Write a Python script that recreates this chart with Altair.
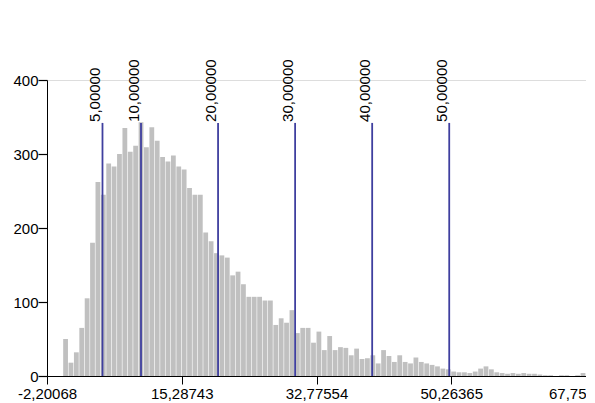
import altair as alt
import pandas as pd

# Histogram definition
x_min = -2.20068
x_max = 67.75
n_bins = 100
counts = [0, 0, 0, 50, 18, 32, 65, 105, 180, 262,
          245, 287, 283, 300, 335, 303, 311, 343, 309, 336,
          318, 296, 290, 298, 283, 279, 254, 245, 245, 194,
          182, 166, 163, 160, 136, 141, 124, 107, 107, 107,
          102, 102, 69, 78, 72, 89, 58, 65, 65, 45,
          60, 35, 54, 35, 39, 38, 28, 37, 23, 24,
          28, 17, 35, 27, 19, 28, 19, 17, 25, 19,
          17, 15, 13, 10, 9, 6, 5, 5, 4, 6,
          10, 13, 9, 5, 4, 3, 4, 3, 4, 3,
          3, 2, 1, 1, 0, 1, 1, 0, 1, 4]

# Axis ticks
x_ticks = [-2.20068, 15.28743, 32.77554, 50.26365, 67.75]
x_tick_labels = ["-2,20068", "15,28743", "32,77554", "50,26365", "67,75"]
y_ticks = [0, 100, 200, 300, 400]

# Marker lines
marker_values = [5, 10, 20, 30, 40, 50]
marker_labels = ["5,00000", "10,00000", "20,00000", "30,00000", "40,00000", "50,00000"]
marker_top = 342

bw = (x_max - x_min) / n_bins
hist = pd.DataFrame({
    "start": [x_min + i * bw for i in range(n_bins)],
    "end": [x_min + (i + 1) * bw for i in range(n_bins)],
    "count": counts,
    "base": [0] * n_bins,
})
markers = pd.DataFrame({
    "v": marker_values,
    "label": marker_labels,
    "bottom": [0] * len(marker_values),
    "top": [marker_top] * len(marker_values),
})

label_expr = " : ".join(
    f"abs(datum.value - ({v})) < 0.001 ? '{l}'" for v, l in zip(x_ticks, x_tick_labels)
) + " : ''"

xscale = alt.Scale(domain=[x_min, x_max], nice=False, zero=False, padding=0)
yscale = alt.Scale(domain=[0, 400], nice=False, padding=0)

FONT = "Liberation Sans"

bars = alt.Chart(hist).mark_bar(color="#c0c0c0", x2Offset=-0.6).encode(
    x=alt.X("start:Q", scale=xscale,
            axis=alt.Axis(values=x_ticks, labelExpr=label_expr, title=None, grid=False,
                          domainColor="black", tickColor="black", tickSize=8,
                          labelFontSize=15, labelFont=FONT, labelColor="black",
                          labelPadding=2, labelFlush=False,
                          labelAlign=alt.expr("datum.value > 60 ? 'right' : 'center'"),
                          labelOverlap=False)),
    x2="end:Q",
    y=alt.Y("count:Q", scale=yscale,
            axis=alt.Axis(values=y_ticks, title=None, grid=False,
                          domainColor="black", tickColor="black", tickSize=9,
                          tickWidth=1.2,
                          labelFontSize=15, labelFont=FONT, labelColor="black",
                          labelPadding=0)),
    y2="base:Q",
)

rules = alt.Chart(markers).mark_rule(color="#3f3f9f", strokeWidth=1.8).encode(
    x=alt.X("v:Q", scale=xscale),
    y=alt.Y("bottom:Q", scale=yscale),
    y2="top:Q",
)

texts = alt.Chart(markers).mark_text(
    angle=270, align="left", baseline="alphabetic", dx=1, dy=-2,
    fontSize=15, font=FONT, color="black"
).encode(
    x=alt.X("v:Q", scale=xscale),
    y=alt.Y("top:Q", scale=yscale),
    text="label:N",
)

chart = alt.layer(bars, rules, texts).properties(
    width=539, height=296,
    padding={"left": 39, "top": 72, "right": 0, "bottom": 27},
    autosize="none",
).configure_view(stroke=None).configure(background="white")

chart.save("out.html", embed_options={"renderer": "svg", "actions": False})
